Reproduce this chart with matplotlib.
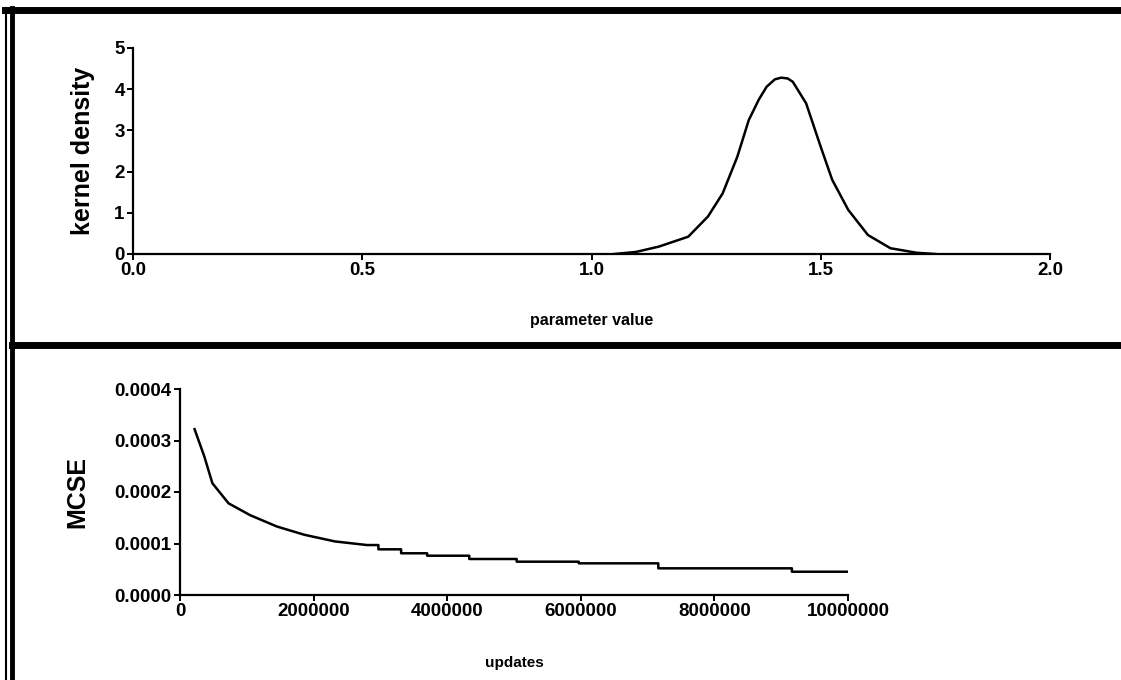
import matplotlib.pyplot as plt
from matplotlib.lines import Line2D

plt.rcParams['font.family'] = ['Liberation Sans', 'DejaVu Sans']
plt.rcParams['font.weight'] = 'bold'

# kernel density of the parameter
param_x = [1.05, 1.097, 1.147, 1.211, 1.254, 1.286, 1.318, 1.343, 1.365, 1.382,
           1.40, 1.414, 1.428, 1.439, 1.468, 1.500, 1.525, 1.560, 1.603, 1.652,
           1.709, 1.75]
density = [0.0, 0.05, 0.18, 0.42, 0.91, 1.47, 2.36, 3.25, 3.75, 4.06,
           4.24, 4.28, 4.26, 4.18, 3.66, 2.60, 1.80, 1.07, 0.46, 0.14,
           0.03, 0.0]

# Monte Carlo standard error against number of updates
updates = [218e3, 364e3, 485e3, 727e3, 1.05e6, 1.45e6, 1.86e6, 2.32e6, 2.80e6,
           2.97e6, 2.97e6, 3.31e6, 3.31e6, 3.70e6, 3.70e6, 4.33e6, 4.33e6,
           5.04e6, 5.04e6, 5.97e6, 5.97e6, 7.16e6, 7.16e6, 9.16e6, 9.16e6, 9.99e6]
mcse = [0.000322, 0.000269, 0.000217, 0.000178, 0.000155, 0.000133, 0.000117,
        0.000104, 0.000097, 0.000097, 0.0000887, 0.0000887, 0.000081, 0.000081,
        0.0000763, 0.0000763, 0.0000699, 0.0000699, 0.0000647, 0.0000647,
        0.0000615, 0.0000615, 0.0000518, 0.0000518, 0.0000452, 0.0000452]

top_xticks = [0.0, 0.5, 1.0, 1.5, 2.0]
top_yticks = [0, 1, 2, 3, 4, 5]
bot_xticks = [0, 2000000, 4000000, 6000000, 8000000, 10000000]
bot_yticks = [0.0, 0.0001, 0.0002, 0.0003, 0.0004]

fig = plt.figure(figsize=(11.21, 6.8), dpi=100)

ax1 = fig.add_axes([133 / 1121, 1 - 254 / 680, 917 / 1121, 206 / 680])
ax2 = fig.add_axes([180 / 1121, 1 - 595 / 680, 668 / 1121, 206 / 680])

for ax in (ax1, ax2):
    for s in ('top', 'right'):
        ax.spines[s].set_visible(False)
    for s in ('left', 'bottom'):
        ax.spines[s].set_linewidth(1.6)
    ax.tick_params(direction='out', length=4, width=1.4, pad=2, labelsize=13.5)

ax1.plot(param_x, density, color='black', lw=1.8)
ax1.set_xlim(0, 2.0)
ax1.set_ylim(0, 5)
ax1.set_xticks(top_xticks)
ax1.set_xticklabels(['0.0', '0.5', '1.0', '1.5', '2.0'])
ax1.set_yticks(top_yticks)
ax1.set_xlabel('parameter value', fontsize=11.5, fontweight='bold', labelpad=24)
ax1.set_ylabel('kernel density', fontsize=18, fontweight='bold', labelpad=14)

ax2.plot(updates, mcse, color='black', lw=1.8)
ax2.set_xlim(0, 10000000)
ax2.set_ylim(0, 0.0004)
ax2.set_xticks(bot_xticks)
ax2.set_xticklabels([str(v) for v in bot_xticks])
ax2.set_yticks(bot_yticks)
ax2.set_yticklabels(['%.4f' % v for v in bot_yticks])
ax2.set_xlabel('updates', fontsize=11, fontweight='bold', labelpad=26)
ax2.set_ylabel('MCSE', fontsize=18, fontweight='bold', labelpad=18)

# window frame lines
fig.add_artist(Line2D([5 / 1121, 1], [1 - 10 / 680] * 2, transform=fig.transFigure,
                      color='black', lw=5))
fig.add_artist(Line2D([12 / 1121, 1], [1 - 345 / 680] * 2, transform=fig.transFigure,
                      color='black', lw=5))
fig.add_artist(Line2D([6 / 1121] * 2, [0, 1 - 8 / 680], transform=fig.transFigure,
                      color='black', lw=1.5))
fig.add_artist(Line2D([12 / 1121] * 2, [0, 1 - 8 / 680], transform=fig.transFigure,
                      color='black', lw=3.5))

fig.savefig('out.png', dpi=100)
